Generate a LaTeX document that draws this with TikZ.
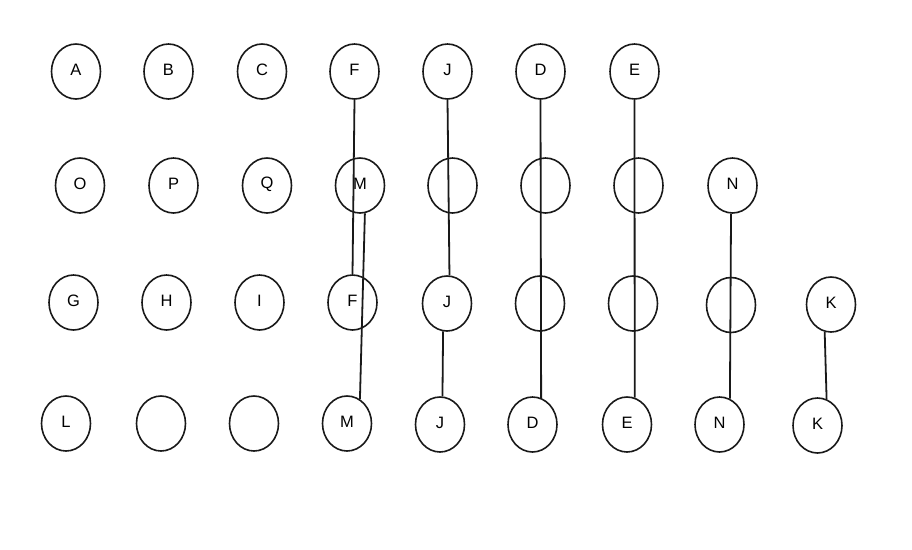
\documentclass[tikz,border=0pt]{standalone}
\usepackage{fontspec}
\setmainfont{Liberation Sans}
\usetikzlibrary{shapes.geometric}
\begin{document}
\begin{tikzpicture}[x=1pt,y=-1pt,
  circ/.style={draw=black!90,ellipse,line width=1.6pt,minimum width=49pt,minimum height=55pt,inner sep=0pt},
  lbl/.style={font=\fontsize{16.5}{16.5}\selectfont,yshift=1.5pt,inner sep=0pt},
  conn/.style={draw=black!90,line width=1.8pt}]
\useasboundingbox (0,0) rectangle (912,549);
% row 1
\node[circ,label={[lbl]center:A}] (A)  at (76,71.5)  {};
\node[circ,label={[lbl]center:B}] (B)  at (168.5,71.5) {};
\node[circ,label={[lbl]center:C}] (C)  at (262,71.5) {};
\node[circ,label={[lbl]center:F}] (F1) at (354.5,71.5) {};
\node[circ,label={[lbl]center:J}] (J1) at (447.5,71.5) {};
\node[circ,label={[lbl]center:D}] (D1) at (540.5,71.5) {};
\node[circ,label={[lbl]center:E}] (E1) at (634.5,71.5) {};
% row 2
\node[circ,label={[lbl]center:O}] (O)  at (80,185.5) {};
\node[circ,label={[lbl]center:P}] (P)  at (173.5,185.5) {};
\node[circ,label={[lbl]center:Q}] (Q)  at (267,185.5) {};
\node[circ,label={[lbl]center:M}] (M2) at (360,185.5) {};
\node[circ] (b21) at (452.5,185.5) {};
\node[circ] (b22) at (545.5,185.5) {};
\node[circ] (b23) at (638.5,185.5) {};
\node[circ,label={[lbl]center:N}] (N2) at (732.5,185.5) {};
% row 3
\node[circ,label={[lbl]center:G}] (G)  at (73.5,302.5) {};
\node[circ,label={[lbl]center:H}] (H)  at (166.5,302.5) {};
\node[circ,label={[lbl]center:I}] (I)  at (259.5,302.5) {};
\node[circ,label={[lbl]center:F}] (F3) at (352.5,302.5) {};
\node[circ,label={[lbl]center:J}] (J3) at (447,303.5) {};
\node[circ] (b31) at (540,303.5) {};
\node[circ] (b32) at (633,303.5) {};
\node[circ] (b33) at (731,305) {};
\node[circ,label={[lbl]center:K}] (K3) at (831,304.5) {};
% row 4
\node[circ,label={[lbl]center:L}] (L)  at (66,423.5) {};
\node[circ] (b41) at (161,423.5) {};
\node[circ] (b42) at (254,423.5) {};
\node[circ,label={[lbl]center:M}] (M4) at (347,423.5) {};
\node[circ,label={[lbl]center:J}] (J4) at (440,424.5) {};
\node[circ,label={[lbl]center:D}] (D4) at (532.5,424.5) {};
\node[circ,label={[lbl]center:E}] (E4) at (627,424.5) {};
\node[circ,label={[lbl]center:N}] (N4) at (719.5,424.5) {};
\node[circ,label={[lbl]center:K}] (K4) at (817.5,425.5) {};
% connectors
\draw[conn] (F1.south) -- (F3.north);
\draw[conn] (M2.-80) -- (M4.62);
\draw[conn] (J1.south) -- (J3.85);
\draw[conn] (J3.-98) -- (J4.85);
\draw[conn] (D1.south) -- (D4.72);
\draw[conn] (E1.south) -- (E4.74);
\draw[conn] (N2.-93) -- (N4.68);
\draw[conn] (K3.-103) -- (K4.71);
\end{tikzpicture}
\end{document}
